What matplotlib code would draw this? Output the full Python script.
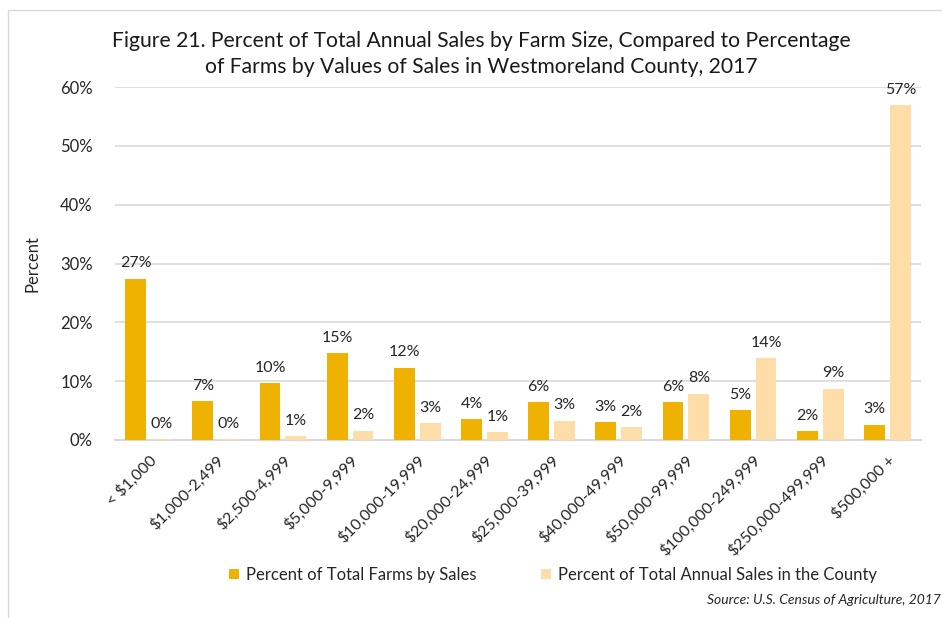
import numpy as np
import matplotlib
matplotlib.use("Agg")
import matplotlib.pyplot as plt
from matplotlib.patches import Rectangle

plt.rcParams['font.family'] = ['Lato', 'DejaVu Sans']

categories = ['< $1,000', '$1,000-2,499', '$2,500-4,999', '$5,000-9,999',
              '$10,000-19,999', '$20,000-24,999', '$25,000-39,999', '$40,000-49,999',
              '$50,000-99,999', '$100,000-249,999', '$250,000-499,999', '$500,000 +']
farms_pct = [27.4, 6.6, 9.7, 14.8, 12.3, 3.5, 6.4, 3.0, 6.4, 5.1, 1.5, 2.6]
sales_pct = [0.1, 0.1, 0.6, 1.6, 2.9, 1.3, 3.3, 2.2, 7.9, 13.9, 8.7, 56.9]
series_names = ['Percent of Total Farms by Sales', 'Percent of Total Annual Sales in the County']

DARK = '#EFB200'
LIGHT = '#FFDDA9'
TXT = '#262626'

fig = plt.figure(figsize=(9.42, 6.18), dpi=100)
ax = fig.add_axes([115 / 942, 1 - 440 / 618, 806 / 942, 353 / 618])

x = np.arange(len(categories))
w = 0.31
off = 0.193
b1 = ax.bar(x - off, farms_pct, w, color=DARK, label=series_names[0], zorder=3)
b2 = ax.bar(x + off, sales_pct, w, color=LIGHT, label=series_names[1], zorder=3)

def lbl(v):
    return f"{int(v + 0.5)}%"

for bars, vals in ((b1, farms_pct), (b2, sales_pct)):
    for r, v in zip(bars, vals):
        ax.annotate(lbl(v), (r.get_x() + r.get_width() / 2, v), xytext=(0, 6),
                    textcoords='offset points', ha='center', va='bottom',
                    fontsize=11.5, color=TXT)

ax.set_xlim(-0.5, len(categories) - 0.5)
ax.set_ylim(0, 60)
ax.set_yticks(range(0, 61, 10))
ax.set_yticklabels([f"{t}%" for t in range(0, 61, 10)], fontsize=12, color=TXT)
ax.yaxis.grid(True, color='#D9D9D9', linewidth=1.2, zorder=0)
ax.set_axisbelow(True)
ax.tick_params(axis='both', length=0)
ax.tick_params(axis='y', pad=16)
for s in ('top', 'right', 'left'):
    ax.spines[s].set_visible(False)
ax.spines['bottom'].set_color('#D9D9D9')
ax.spines['bottom'].set_linewidth(1.5)

ax.set_xticks(x)
ax.set_xticklabels(categories, rotation=45, ha='right', rotation_mode='anchor',
                   fontsize=11.5, color=TXT)
ax.tick_params(axis='x', pad=9)

ax.set_ylabel('Percent', fontsize=12, color=TXT, labelpad=14)

fig.text(481 / 942, 1 - 54 / 618, 'Figure 21. Percent of Total Annual Sales by Farm Size, Compared to Percentage\n'
         'of Farms by Values of Sales in Westmoreland County, 2017',
         ha='center', va='center', fontsize=15.2, color='#1a1a1a', linespacing=1.4)

leg = fig.legend(handles=[b1, b2], loc='center', bbox_to_anchor=(553 / 942, 1 - 575 / 618),
                 ncol=2, frameon=False, fontsize=12, handlelength=0.6, handleheight=0.6,
                 handletextpad=0.4, columnspacing=3.9)
for t in leg.get_texts():
    t.set_color(TXT)

fig.text(941 / 942, 1 - 600 / 618, 'Source: U.S. Census of Agriculture, 2017',
         ha='right', va='center', fontsize=10, style='italic', color=TXT)

fig.patches.append(Rectangle((8 / 942, -0.1), 1.2, 1 - 10 / 618 + 0.1,
                             transform=fig.transFigure, fill=False,
                             edgecolor='#D9D9D9', linewidth=1))

fig.savefig('out.png', dpi=100)
